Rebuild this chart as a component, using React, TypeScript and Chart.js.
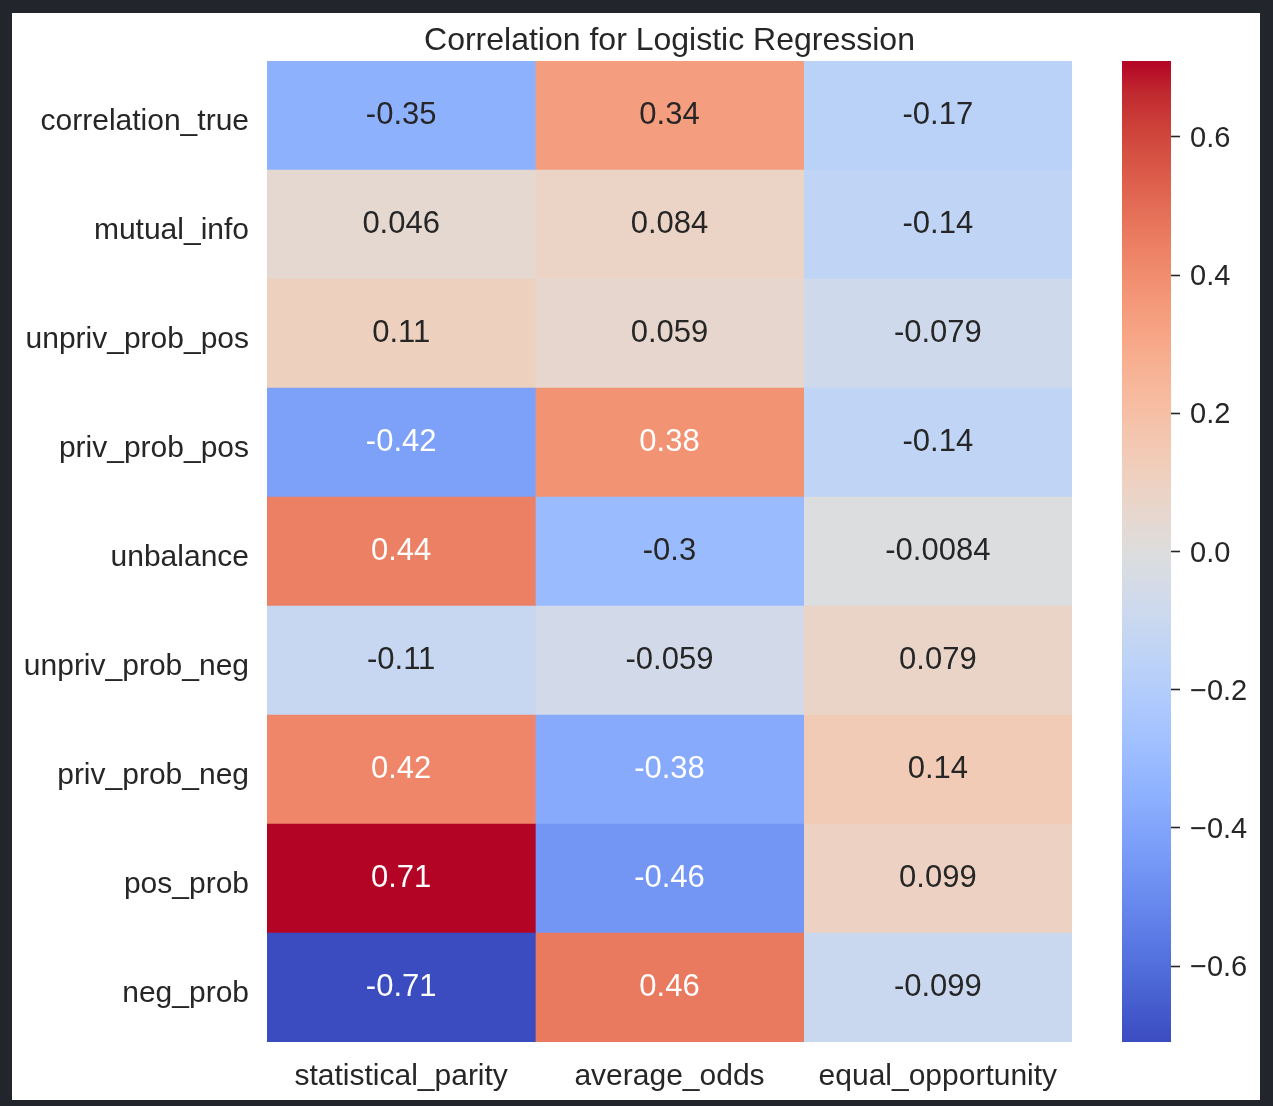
import React, { useEffect, useRef } from 'react';
import { Chart, registerables } from 'chart.js';

Chart.register(...registerables);

// ---- Data ----
const rowLabels = [
  'correlation_true',
  'mutual_info',
  'unpriv_prob_pos',
  'priv_prob_pos',
  'unbalance',
  'unpriv_prob_neg',
  'priv_prob_neg',
  'pos_prob',
  'neg_prob',
];
const colLabels = ['statistical_parity', 'average_odds', 'equal_opportunity'];
const statisticalParity = [-0.35, 0.046, 0.11, -0.42, 0.44, -0.11, 0.42, 0.71, -0.71];
const averageOdds = [0.34, 0.084, 0.059, 0.38, -0.3, -0.059, -0.38, -0.46, 0.46];
const equalOpportunity = [-0.17, -0.14, -0.079, -0.14, -0.0084, 0.079, 0.14, 0.099, -0.099];
const colorbarTicks = [-0.6, -0.4, -0.2, 0, 0.2, 0.4, 0.6];
const titleText = 'Correlation for Logistic Regression';

const columns = [statisticalParity, averageOdds, equalOpportunity];
const allValues = columns.flat();
const vmin = Math.min(...allValues);
const vmax = Math.max(...allValues);

// coolwarm colormap (Moreland), 33 control points
const COOLWARM: number[][] = [
  [59, 76, 192], [68, 90, 204], [77, 104, 215], [87, 117, 225], [98, 130, 234],
  [108, 142, 241], [119, 154, 247], [130, 165, 251], [141, 176, 254], [152, 185, 255],
  [163, 194, 255], [174, 201, 253], [184, 208, 249], [194, 213, 244], [204, 217, 238],
  [213, 219, 230], [221, 221, 221], [229, 216, 209], [236, 211, 197], [241, 204, 184],
  [245, 196, 172], [247, 187, 159], [247, 177, 147], [247, 166, 134], [244, 154, 123],
  [241, 141, 111], [236, 127, 99], [229, 112, 88], [222, 96, 77], [213, 80, 66],
  [203, 62, 56], [192, 40, 47], [180, 4, 38],
];

function coolwarmRGB(t: number): number[] {
  const tt = Math.max(0, Math.min(1, t)) * (COOLWARM.length - 1);
  const i = Math.min(COOLWARM.length - 2, Math.floor(tt));
  const f = tt - i;
  const a = COOLWARM[i];
  const b = COOLWARM[i + 1];
  return [0, 1, 2].map((k) => a[k] + (b[k] - a[k]) * f);
}
function rgbStr(c: number[]) {
  return `rgb(${Math.round(c[0])},${Math.round(c[1])},${Math.round(c[2])})`;
}
function valueColor(v: number) {
  return rgbStr(coolwarmRGB((v - vmin) / (vmax - vmin)));
}
function luminance(c: number[]) {
  const lin = c.map((x) => {
    const s = x / 255;
    return s <= 0.03928 ? s / 12.92 : Math.pow((s + 0.055) / 1.055, 2.4);
  });
  return 0.2126 * lin[0] + 0.7152 * lin[1] + 0.0722 * lin[2];
}
function fmt2g(v: number) {
  return String(parseFloat(v.toPrecision(2)));
}

const FONT = '"Liberation Sans", Arial, Helvetica, sans-serif';
const TEXT = '#262626';

export default function App() {
  const mainRef = useRef<HTMLCanvasElement>(null);
  const cbRef = useRef<HTMLCanvasElement>(null);

  useEffect(() => {
    if (!mainRef.current || !cbRef.current) return;

    const annotate = {
      id: 'annotate',
      afterDatasetsDraw(chart: any) {
        const { ctx, scales } = chart;
        ctx.save();
        ctx.font = `31px ${FONT}`;
        ctx.textAlign = 'center';
        ctx.textBaseline = 'middle';
        columns.forEach((col, c) => {
          col.forEach((v, r) => {
            const x = scales.x.getPixelForValue(c + 0.5);
            const y = scales.y.getPixelForValue(r);
            const lum = luminance(coolwarmRGB((v - vmin) / (vmax - vmin)));
            ctx.fillStyle = lum > 0.42 ? TEXT : '#ffffff';
            ctx.fillText(fmt2g(v), x, y);
          });
        });
        ctx.restore();
      },
    };

    const titlePlugin = {
      id: 'heatTitle',
      afterDraw(chart: any) {
        const { ctx, chartArea } = chart;
        ctx.save();
        ctx.font = `32px ${FONT}`;
        ctx.fillStyle = TEXT;
        ctx.textAlign = 'center';
        ctx.textBaseline = 'middle';
        ctx.fillText(titleText, (chartArea.left + chartArea.right) / 2, 28);
        ctx.restore();
      },
    };

    const main = new Chart(mainRef.current, {
      type: 'bar',
      data: {
        labels: rowLabels,
        datasets: columns.map((col, c) => ({
          label: colLabels[c],
          data: col.map(() => [c, c + 1]),
          backgroundColor: col.map((v) => valueColor(v)),
          borderWidth: 0,
          barPercentage: 1,
          categoryPercentage: 1,
        })),
      },
      options: {
        indexAxis: 'y',
        responsive: false,
        animation: false,
        layout: { padding: { top: 48, right: 28, left: 0, bottom: 0 } },
        plugins: {
          legend: { display: false },
          tooltip: { enabled: false },
          title: { display: false },
        },
        scales: {
          y: {
            type: 'category',
            stacked: true,
            grid: { display: false, drawTicks: false },
            border: { display: false },
            ticks: {
              color: TEXT,
              font: { family: FONT, size: 30 },
              padding: 18,
              labelOffset: 6,
            },
            afterFit: (s: any) => {
              s.width = 255;
            },
          },
          x: {
            type: 'linear',
            min: 0,
            max: colLabels.length,
            grid: { display: false, drawTicks: false },
            border: { display: false },
            afterBuildTicks: (s: any) => {
              s.ticks = colLabels.map((_, i) => ({ value: i + 0.5 }));
            },
            ticks: {
              color: TEXT,
              font: { family: FONT, size: 30 },
              padding: 17,
              autoSkip: false,
              maxRotation: 0,
              callback: (v: any) => colLabels[Math.round(Number(v) - 0.5)],
            },
            afterFit: (s: any) => {
              s.height = 58;
            },
          },
        },
      },
      plugins: [annotate, titlePlugin],
    } as any);

    const cb = new Chart(cbRef.current, {
      type: 'bar',
      data: {
        labels: ['colorbar'],
        datasets: [
          {
            data: [[vmin, vmax]],
            borderWidth: 0,
            barPercentage: 1,
            categoryPercentage: 1,
            backgroundColor: (ctx: any) => {
              const chart = ctx.chart;
              const yScale = chart.scales && chart.scales.y;
              if (!chart.chartArea || !yScale) return valueColor(0);
              const y0 = yScale.getPixelForValue(vmin);
              const y1 = yScale.getPixelForValue(vmax);
              const g = chart.ctx.createLinearGradient(0, y0, 0, y1);
              COOLWARM.forEach((c, i) => g.addColorStop(i / (COOLWARM.length - 1), rgbStr(c)));
              return g;
            },
          },
        ],
      },
      options: {
        responsive: false,
        animation: false,
        layout: { padding: { top: 48, right: 0, left: 22, bottom: 58 } },
        plugins: { legend: { display: false }, tooltip: { enabled: false } },
        scales: {
          x: { display: false },
          y: {
            type: 'linear',
            position: 'right',
            min: vmin,
            max: vmax,
            border: { display: false },
            grid: {
              drawOnChartArea: false,
              drawTicks: true,
              tickLength: 9,
              tickColor: TEXT,
              tickWidth: 1.6,
            },
            afterBuildTicks: (s: any) => {
              s.ticks = colorbarTicks.map((v) => ({ value: v }));
            },
            ticks: {
              color: TEXT,
              font: { family: FONT, size: 29 },
              padding: 10,
              labelOffset: 2,
              callback: (v: any) => {
                const n = Number(v);
                if (Math.abs(n) < 1e-9) return '0.0';
                return (n < 0 ? '\u2212' : '') + Math.abs(n).toFixed(1);
              },
            },
            afterFit: (s: any) => {
              s.width = 89;
            },
          },
        },
      },
    } as any);

    return () => {
      main.destroy();
      cb.destroy();
    };
  }, []);

  return (
    <div
      style={{
        position: 'absolute',
        left: 0,
        top: 0,
        width: 1273,
        height: 1106,
        background: '#22252c',
        overflow: 'hidden',
      }}
    >
      <div
        style={{
          position: 'absolute',
          left: 12,
          top: 13,
          width: 1248,
          height: 1087,
          background: '#ffffff',
        }}
      >
        <canvas
          ref={mainRef}
          width={1088}
          height={1087}
          style={{ position: 'absolute', left: 0, top: 0 }}
        />
        <canvas
          ref={cbRef}
          width={160}
          height={1087}
          style={{ position: 'absolute', left: 1088, top: 0 }}
        />
      </div>
    </div>
  );
}
